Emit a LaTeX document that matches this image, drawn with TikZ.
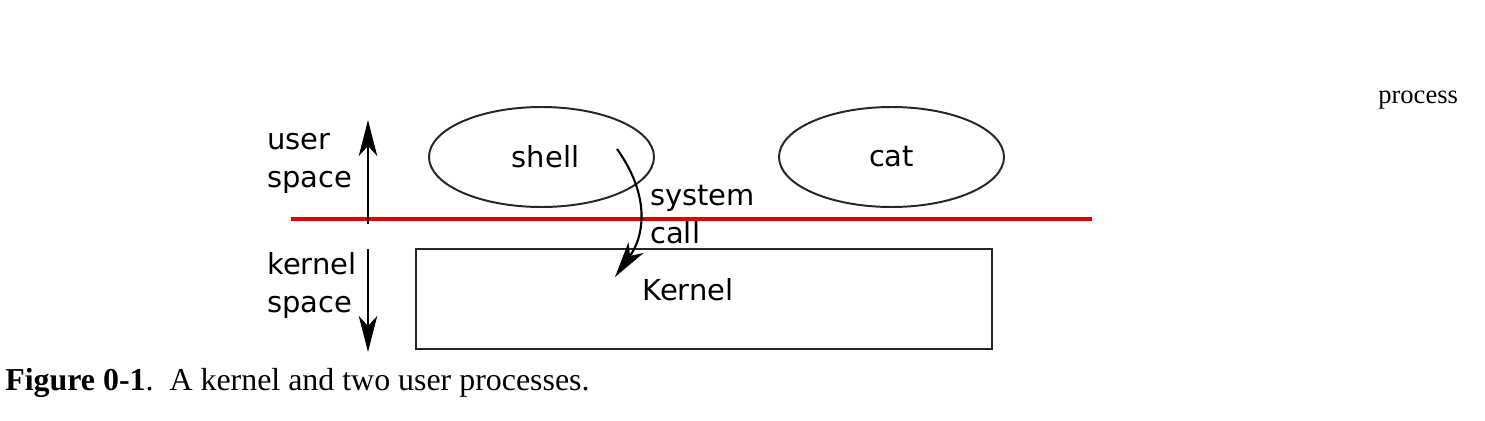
\documentclass[tikz,border=0pt]{standalone}
\usepackage{fontspec}
\setmainfont{Liberation Serif}
\setsansfont{DejaVu Sans}
\usepackage{tikz}
\usetikzlibrary{arrows.meta,positioning,shapes.geometric}
\definecolor{spacered}{RGB}{228,0,0}

\begin{document}
\begin{tikzpicture}[
    node distance=8.75cm,
    >={Stealth[length=9mm,width=4.6mm,inset=2.5mm]},
    font=\sffamily\fontsize{20.6}{26.6}\selectfont,
    proc/.style={
		ellipse,
		draw=black!85,
		line width=1.4pt,
		inner sep=0pt,
		minimum width=5.625cm,
		minimum height=2.5cm
	},
	kernelbox/.style={
		rectangle,
		draw=black!85,
		line width=1.9pt,
		minimum width=14.4cm,
		minimum height=2.5cm
	},
	sidetext/.style={
		align=left,
		inner sep=0pt,
		anchor=base west
	},
	spacearrow/.style={
		->,
		line width=1.5pt
	}
  ]

\useasboundingbox (0,0) rectangle (37.125,-10.5);

% // the processes
\node [proc] (shell) at (13.5375,-3.925) {\hspace*{0.2cm}shell};
\node [proc, right of=shell] (cat) {cat};

% // the kernel
\node [kernelbox] (kernel) at (17.6,-7.475) {};
\node [inner sep=0pt, anchor=base] (kerneltext) at (17.2,-7.5) {Kernel};

% // border between user and kernel space
\coordinate (borderleft) at (7.275,-5.475);
\coordinate (borderright) at (27.3,-5.475);
\draw [spacered, line width=2.8pt] (borderleft) -- (borderright);

% // user / kernel space arrows
\coordinate (userfoot) at (9.2,-5.6);
\coordinate (usertip) at (9.2,-3.0);
\coordinate (kernelfoot) at (9.2,-6.225);
\coordinate (kerneltip) at (9.2,-8.8);
\draw [spacearrow] (userfoot) -- (usertip);
\draw [spacearrow] (kernelfoot) -- (kerneltip);

\node [sidetext] (userlabel) at (6.675,-4.675) {user\\space};
\node [sidetext] (kernellabel) at (6.675,-7.8) {kernel\\space};

% // the system call
\coordinate (callend) at (15.375,-6.925);
\draw [spacearrow] ([xshift=1.8875cm,yshift=0.2cm]shell.center)
  .. controls (16.25,-4.875) and (16.125,-5.875) .. (callend);
\node [sidetext] (calllabel) at (16.25,-6.075) {system\\call};

% // label and caption
\node [inner sep=0pt, anchor=base west, font=\rmfamily\fontsize{18.9}{22}\selectfont] (proclabel) at (34.45,-2.575) {process};
\node [inner sep=0pt, anchor=base west, font=\rmfamily\fontsize{22.7}{27}\selectfont] (caption) at (0.125,-9.75)
  {\textbf{Figure 0-1}.\ \ A kernel and two user processes.};

\end{tikzpicture}
\end{document}
